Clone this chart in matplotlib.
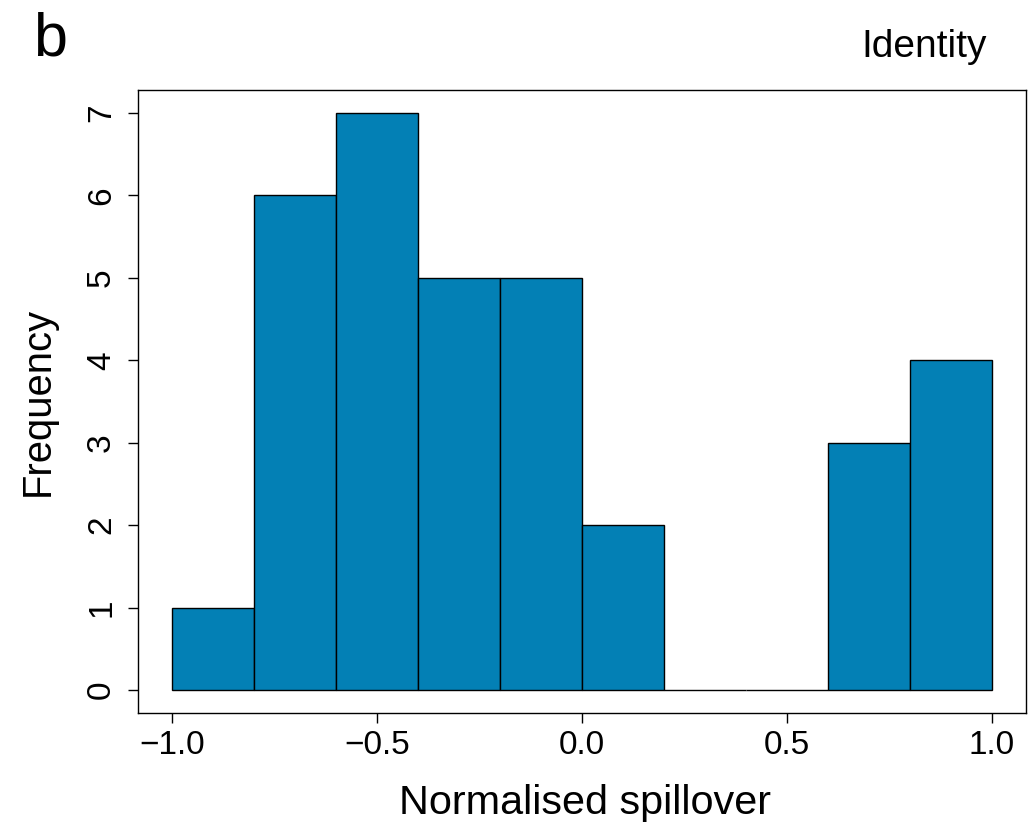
import matplotlib
matplotlib.use("Agg")
import matplotlib.pyplot as plt
import numpy as np

plt.rcParams['font.family'] = ['Liberation Sans', 'DejaVu Sans']

bin_edges = [-1.0, -0.8, -0.6, -0.4, -0.2, 0.0, 0.2, 0.4, 0.6, 0.8, 1.0]
counts = [1, 6, 7, 5, 5, 2, 0, 0, 3, 4]
x_ticks = [-1.0, -0.5, 0.0, 0.5, 1.0]
x_tick_labels = ['\u22121.0', '\u22120.5', '0.0', '0.5', '1.0']
y_ticks = [0, 1, 2, 3, 4, 5, 6, 7]

W, H = 1036, 827
fig = plt.figure(figsize=(W / 100, H / 100), dpi=100)
ax = fig.add_axes([138 / W, 1 - 713 / H, (1026 - 138) / W, (713 - 90) / H])

edges = np.array(bin_edges)
ax.bar(edges[:-1], counts, width=np.diff(edges), align='edge',
       color='#0380B5', edgecolor='black', linewidth=1.0)

ax.set_xlim(-1.083, 1.083)
ax.set_ylim(-0.28, 7.28)
ax.set_xticks(x_ticks)
ax.set_xticklabels(x_tick_labels)
ax.set_yticks(y_ticks)
ax.set_yticklabels([str(v) for v in y_ticks], rotation=90, va='center')
ax.tick_params(axis='both', direction='out', length=7, width=1.0,
               labelsize=24)
ax.tick_params(axis='x', pad=5)
ax.tick_params(axis='y', pad=8)
for s in ax.spines.values():
    s.set_linewidth(1.0)

fig.text((138 + 1026) / 2 / W + 0.003, 1 - 803 / H, 'Normalised spillover',
         ha='center', va='center', fontsize=29.8)
fig.text(38 / W, 1 - 401 / H, 'Frequency', rotation=90,
         ha='center', va='center', fontsize=28.8)

fig.text(987 / W, 1 - 57 / H, 'Identity', ha='right', va='baseline', fontsize=28)
fig.text(33 / W, 1 - 55 / H, 'b', ha='left', va='baseline', fontsize=44)

fig.savefig('out.png', dpi=100)
